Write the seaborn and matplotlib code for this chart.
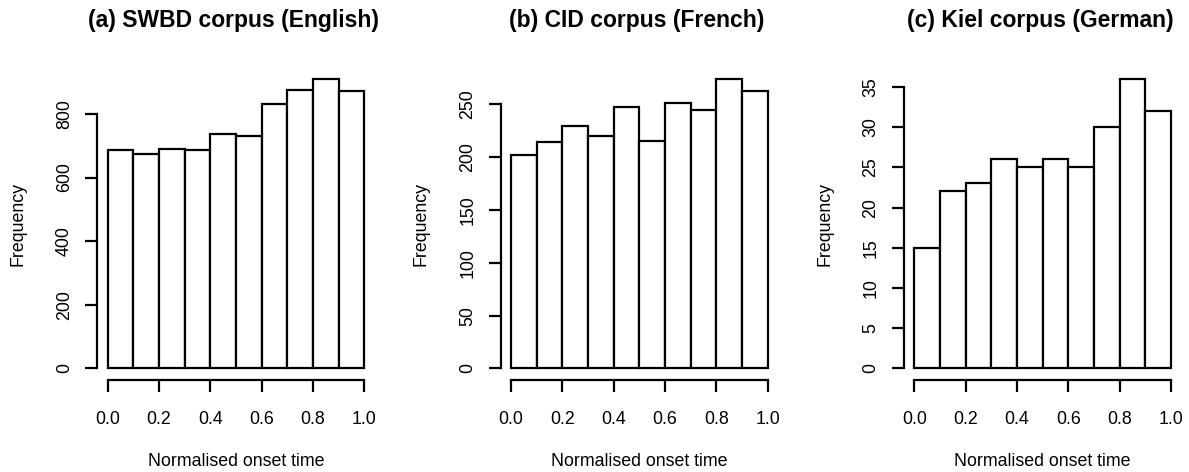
import numpy as np
import pandas as pd
import matplotlib
matplotlib.use("Agg")
import matplotlib.pyplot as plt
import seaborn as sns

# ---- data ----
bin_edges = [0.0, 0.1, 0.2, 0.3, 0.4, 0.5, 0.6, 0.7, 0.8, 0.9, 1.0]
swbd_counts = [686, 674, 689, 686, 737, 730, 831, 874, 910, 871]
cid_counts = [202, 214, 229, 220, 247, 215, 251, 245, 274, 263]
kiel_counts = [15, 22, 23, 26, 25, 26, 25, 30, 36, 32]
titles = ["(a) SWBD corpus (English)", "(b) CID corpus (French)", "(c) Kiel corpus (German)"]
x_ticks = [0.0, 0.2, 0.4, 0.6, 0.8, 1.0]
x_ticklabels = ["0.0", "0.2", "0.4", "0.6", "0.8", "1.0"]
swbd_yticks = [0, 200, 400, 600, 800]
cid_yticks = [0, 50, 100, 150, 200, 250]
kiel_yticks = [0, 5, 10, 15, 20, 25, 30, 35]
x_label = "Normalised onset time"
y_label = "Frequency"

sns.set_style("white")
plt.rcParams["font.family"] = ["Liberation Sans", "DejaVu Sans"]

W, H = 1189, 472
fig = plt.figure(figsize=(W / 100, H / 100), dpi=100)

lefts_px = [97.4, 500.7, 904.0]
ax_w_px, ax_bottom_px, ax_h_px = 277.2, 92.0, 312.7
LW = 1.6
FS = 12.8

panels = [
    (swbd_counts, swbd_yticks),
    (cid_counts, cid_yticks),
    (kiel_counts, kiel_yticks),
]

for i, ((counts, yticks), title) in enumerate(zip(panels, titles)):
    ax = fig.add_axes([lefts_px[i] / W, ax_bottom_px / H, ax_w_px / W, ax_h_px / H])
    edges = np.array(bin_edges)
    centers = (edges[:-1] + edges[1:]) / 2
    df = pd.DataFrame({"onset": centers, "n": counts})
    sns.histplot(data=df, x="onset", weights="n", bins=bin_edges, stat="count",
                 color="white", edgecolor="black", linewidth=LW, alpha=1, ax=ax)
    ymax = max(counts)
    ax.set_xlim(-0.04, 1.04)
    ax.set_ylim(-0.04 * ymax, 1.04 * ymax)
    for s in ["top", "right"]:
        ax.spines[s].set_visible(False)
    ax.spines["left"].set_bounds(yticks[0], yticks[-1])
    ax.spines["bottom"].set_bounds(0, 1)
    for s in ["left", "bottom"]:
        ax.spines[s].set_linewidth(LW)
        ax.spines[s].set_color("black")
    ax.set_xticks(x_ticks)
    ax.set_xticklabels(x_ticklabels)
    ax.set_yticks(yticks)
    ax.set_yticklabels([str(v) for v in yticks])
    ax.tick_params(axis="both", direction="out", length=8.6, width=LW, color="black",
                   labelsize=FS, labelcolor="black", left=True, bottom=True)
    ax.tick_params(axis="x", pad=14)
    ax.tick_params(axis="y", pad=9)
    for lab in ax.get_yticklabels():
        lab.set_rotation(90)
        lab.set_va("center")
    ax.set_xlabel(x_label, fontsize=FS, color="black")
    ax.set_ylabel(y_label, fontsize=FS, color="black")
    ax.xaxis.set_label_coords(0.5, (380 - 461.7) / ax_h_px)
    ax.xaxis.label.set_va("center")
    ax.yaxis.set_label_coords((18 - 97.4) / ax_w_px, 0.5)
    ax.yaxis.label.set_va("center")
    ax.grid(False)
    ax.text(0.49, 1 + (67.3 - 20) / ax_h_px, title, transform=ax.transAxes,
            ha="center", va="center", fontsize=16.5, fontweight="bold", color="black")

fig.savefig("out.png", dpi=100, facecolor="white")
